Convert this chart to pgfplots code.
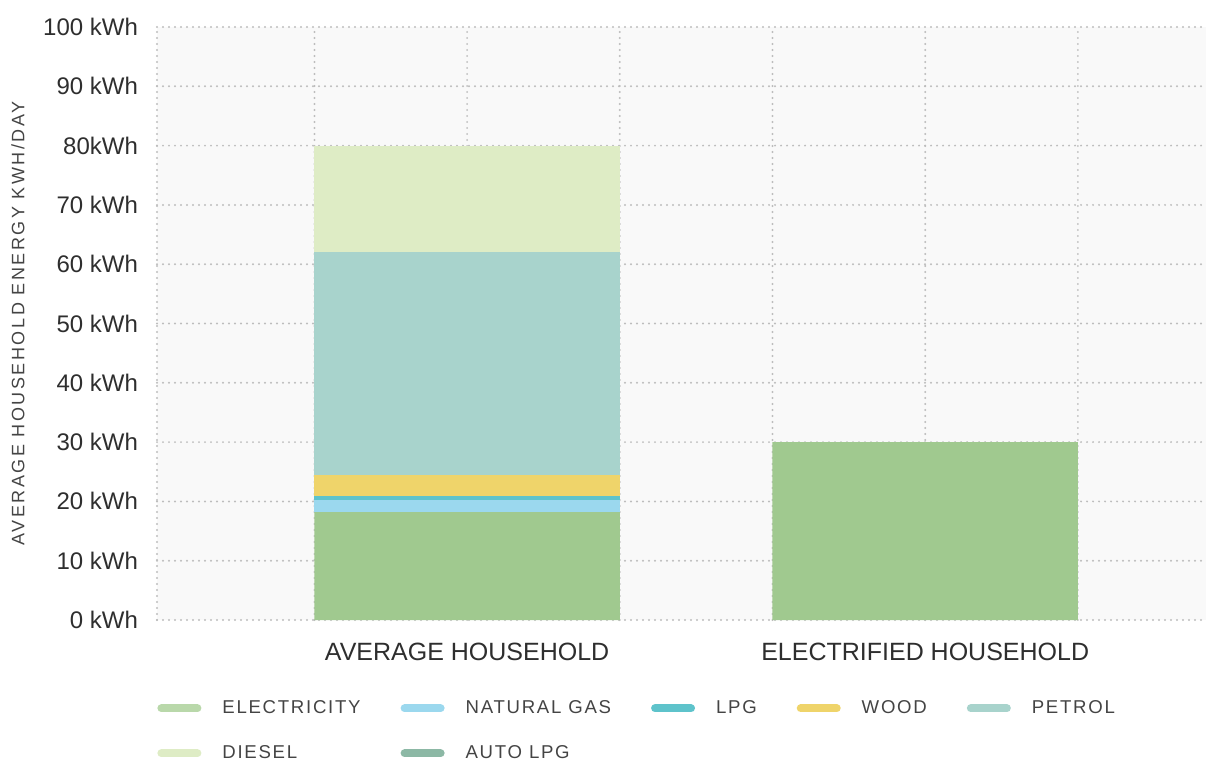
\documentclass[border=0pt]{standalone}
\usepackage{pgfplots}
\pgfplotsset{compat=1.18}
\usepackage{fontspec}
\setmainfont{Liberation Sans}
\definecolor{elec}{HTML}{A0C98F}
\definecolor{elecl}{HTML}{B9D8AA}
\definecolor{ngas}{HTML}{9BD8EE}
\definecolor{lpg}{HTML}{5EC3CB}
\definecolor{wood}{HTML}{EFD46A}
\definecolor{petrol}{HTML}{A8D3CC}
\definecolor{diesel}{HTML}{DEECC5}
\definecolor{autolpg}{HTML}{8CB8A5}
\definecolor{bg}{HTML}{F9F9F9}
\definecolor{gridc}{HTML}{BDBDBD}
\definecolor{txt}{HTML}{2E2E2E}
\definecolor{ltxt}{HTML}{444444}
\pgfplotsset{swatch/.style={legend image code/.code={\draw[line width=4pt,line cap=round,draw=#1] (2pt,0pt) -- (20pt,0pt);}}}
\begin{document}
\begin{tikzpicture}
\begin{axis}[
  scale only axis, width=524.5pt, height=296.5pt,
  ybar stacked, bar width=0.6667,
  xmin=-0.677, xmax=1.613, ymin=0, ymax=100,
  axis line style={draw=none},
  axis background/.style={fill=bg},
  xtick={-0.677,-0.3333,0,0.3333,0.6667,1,1.3333},
  xticklabels={,,AVERAGE HOUSEHOLD,,,ELECTRIFIED HOUSEHOLD,},
  ytick={0,10,...,100},
  yticklabels={0 kWh,10 kWh,20 kWh,30 kWh,40 kWh,50 kWh,60 kWh,70 kWh,80kWh,90 kWh,100 kWh},
  major tick length=0pt,
  grid=major,
  major grid style={gridc, line width=1.1pt, line cap=round, dash pattern=on 0pt off 3pt},
  tick label style={font=\fontsize{12}{14}\selectfont, text=txt},
  yticklabel style={xshift=-6pt},
  xticklabel style={yshift=-8pt, font=\fontsize{12.5}{14}\selectfont},
  ylabel={AVERAGE HOUSEHOLD ENERGY KWH/DAY},
  every axis y label/.style={at={(axis description cs:0,0.5)}, rotate=90, anchor=center, yshift=69.5pt, font=\fontsize{9}{10}\selectfont\addfontfeatures{LetterSpace=14}, text=ltxt},
  legend style={at={(axis description cs:0,0)}, anchor=north west, yshift=-38pt, draw=none, fill=none, inner sep=0pt,
    font=\fontsize{9.3}{11}\selectfont\addfontfeatures{LetterSpace=9.3}, text=ltxt,
    /tikz/every odd column/.append style={column sep=8.5pt},
    /tikz/every even column/.append style={column sep=18pt},
    /tikz/row sep=10.5pt},
  legend columns=5,
  legend cell align=left,
]
\addplot[fill=elec, draw=none, swatch=elecl] coordinates {(0,18.2) (1,30)};
\addplot[fill=ngas, draw=none, swatch=ngas] coordinates {(0,2.0) (1,0)};
\addplot[fill=lpg, draw=none, swatch=lpg] coordinates {(0,0.7) (1,0)};
\addplot[fill=wood, draw=none, swatch=wood] coordinates {(0,3.6) (1,0)};
\addplot[fill=petrol, draw=none, swatch=petrol] coordinates {(0,37.5) (1,0)};
\addplot[fill=diesel, draw=none, swatch=diesel] coordinates {(0,18.0) (1,0)};
\addplot[fill=autolpg, draw=none, swatch=autolpg] coordinates {(0,0) (1,0)};
\legend{ELECTRICITY,NATURAL GAS,LPG,WOOD,PETROL,DIESEL,AUTO LPG}
\end{axis}
\pgfresetboundingbox
\path (current axis.south west) ++(-78.5pt,-71pt) rectangle ++(603pt,381pt);
\end{tikzpicture}
\end{document}
